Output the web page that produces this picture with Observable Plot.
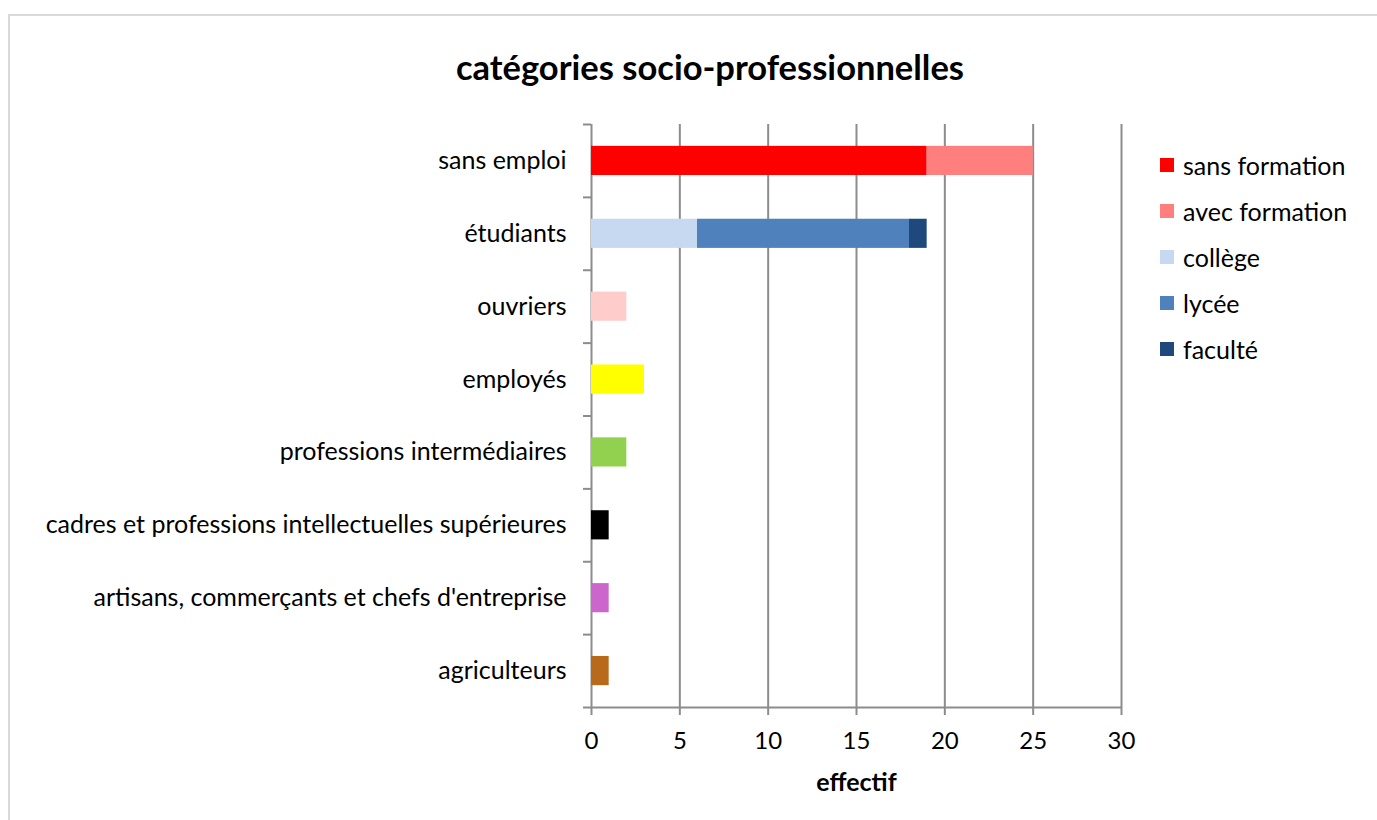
<!DOCTYPE html>
<html>
<head>
<meta charset="utf-8">
<script src="https://cdn.jsdelivr.net/npm/d3@7"></script>
<script src="https://cdn.jsdelivr.net/npm/@observablehq/plot@0.6"></script>
<style>
  body { margin:0; width:1377px; height:820px; overflow:hidden; position:relative; background:#fff; font-family: Lato, "Open Sans", sans-serif; color:#000; }
  #frame { position:absolute; left:8px; top:14px; width:1400px; height:900px; border:2px solid #d9d9d9; }
  #title { position:absolute; left:0; top:45px; width:1420px; text-align:center; font-weight:bold; font-size:34.5px; line-height:44px; }
  #chart { position:absolute; left:0; top:100px; line-height:0; }
  #legend { position:absolute; left:1160px; top:142px; font-size:25px; }
  .item { height:46px; display:flex; align-items:center; }
  .sw { width:14px; height:14px; margin-right:9px; }
  [aria-label="x-axis tick"] { stroke:#8c8c8c; stroke-width:2; }
  [aria-label="y-axis tick label"] { font-size:25px; }
</style>
</head>
<body>
<div id="frame"></div>
<div id="title">catégories socio-professionnelles</div>
<div id="chart"></div>
<div id="legend"></div>
<script>
const categories = [
  "sans emploi",
  "étudiants",
  "ouvriers",
  "employés",
  "professions intermédiaires",
  "cadres et professions intellectuelles supérieures",
  "artisans, commerçants et chefs d'entreprise",
  "agriculteurs"
];
// sans emploi split
const sansEmploiSeries = ["sans formation", "avec formation"];
const sansEmploiValues = [19, 6];
const sansEmploiColors = ["#FF0000", "#FF7F7F"];
// étudiants split
const etudiantsSeries = ["collège", "lycée", "faculté"];
const etudiantsValues = [6, 12, 1];
const etudiantsColors = ["#C6D9F1", "#4F81BD", "#1F497D"];
// other categories (single bar each)
const otherCategories = categories.slice(2);
const otherValues = [2, 3, 2, 1, 1, 1];
const otherColors = ["#FFCCCC", "#FFFF00", "#92D050", "#000000", "#CC66CC", "#B8691A"];
const xTicks = [0, 5, 10, 15, 20, 25, 30];

const rows = [];
sansEmploiSeries.forEach((s, i) => rows.push({cat: categories[0], series: s, value: sansEmploiValues[i], color: sansEmploiColors[i]}));
etudiantsSeries.forEach((s, i) => rows.push({cat: categories[1], series: s, value: etudiantsValues[i], color: etudiantsColors[i]}));
otherCategories.forEach((c, i) => rows.push({cat: c, series: c, value: otherValues[i], color: otherColors[i]}));

const width = 1377, height = 720;
const mTop = 24, mBottom = 113, mLeft = 591, mRight = 256;
const step = (height - mTop - mBottom) / categories.length;
const tickLen = 8 / ((width - mLeft - mRight) / 30);
const gray = "#8c8c8c";

const plot = Plot.plot({
  width, height,
  marginTop: mTop, marginBottom: mBottom, marginLeft: mLeft, marginRight: mRight,
  style: {fontFamily: "Lato, 'Open Sans', sans-serif", fontSize: "24px", color: "#000", background: "transparent", overflow: "visible"},
  x: {domain: [0, 30], ticks: xTicks, tickSize: 8, tickPadding: 16, label: null},
  y: {domain: categories, paddingInner: 0.6, paddingOuter: 0.3, round: false, tickSize: 0, tickPadding: 25, label: null},
  color: {type: "identity"},
  marks: [
    Plot.ruleX(xTicks, {x: d => d, stroke: gray, strokeWidth: 2}),
    Plot.barX(rows, Plot.stackX({y: "cat", x: "value", fill: "color"})),
    Plot.ruleY(categories, {y: d => d, x1: -tickLen, x2: 0, dy: -step / 2, stroke: gray, strokeWidth: 2}),
    Plot.ruleY([categories[categories.length - 1]], {y: d => d, x1: -tickLen, x2: 30, dy: step / 2, stroke: gray, strokeWidth: 2}),
    Plot.text(["effectif"], {frameAnchor: "bottom", dy: 83, text: d => d, fontWeight: "bold", fontSize: 25, fill: "#000"})
  ]
});
document.getElementById("chart").appendChild(plot);

const legendSeries = sansEmploiSeries.concat(etudiantsSeries);
const legendColors = sansEmploiColors.concat(etudiantsColors);
const legend = document.getElementById("legend");
legendSeries.forEach((s, i) => {
  const it = document.createElement("div");
  it.className = "item";
  const sw = document.createElement("div");
  sw.className = "sw";
  sw.style.background = legendColors[i];
  const tx = document.createElement("span");
  tx.textContent = s;
  it.appendChild(sw); it.appendChild(tx);
  legend.appendChild(it);
});
</script>
</body>
</html>
